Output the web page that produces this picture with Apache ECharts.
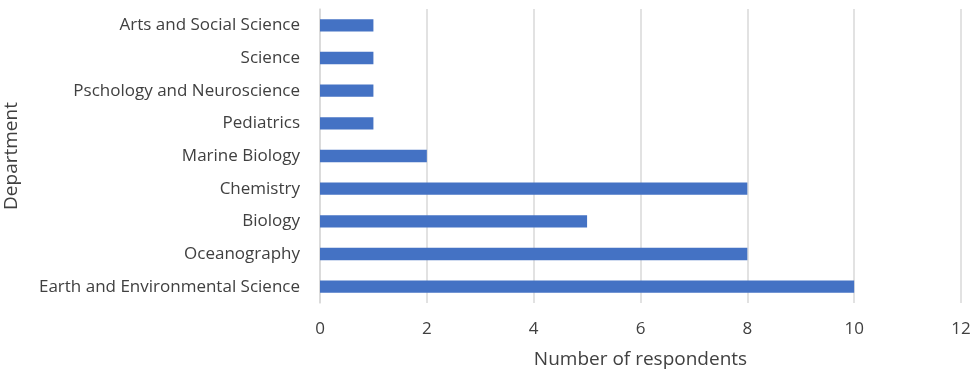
<!DOCTYPE html>
<html><head><meta charset="utf-8">
<script src="https://cdn.jsdelivr.net/npm/echarts@6/dist/echarts.min.js"></script>
<style>html,body{margin:0;padding:0;background:#fff}#c{width:974px;height:370px}</style>
</head><body><div id="c"></div>
<script>
const categories = ["Earth and Environmental Science","Oceanography","Biology","Chemistry","Marine Biology","Pediatrics","Pschology and Neuroscience","Science","Arts and Social Science"];
const values = [10, 8, 5, 8, 2, 1, 1, 1, 1];
const xTicks = [0, 2, 4, 6, 8, 10, 12];
const font = "'Open Sans', sans-serif";
const chart = echarts.init(document.getElementById('c'), null, {renderer:'canvas'});
chart.setOption({
  animation:false,
  grid:{left:320, right:13, top:9, bottom:67, containLabel:false, outerBoundsMode:'none'},
  xAxis:{type:'value', min:xTicks[0], max:xTicks[xTicks.length-1], interval:2,
    name:'Number of respondents', nameLocation:'middle', nameGap:47,
    nameTextStyle:{fontFamily:font, fontSize:19, color:'#404040'},
    axisLine:{show:false}, axisTick:{show:false},
    axisLabel:{fontFamily:font, fontSize:17, color:'#404040', margin:18},
    splitLine:{show:true, lineStyle:{color:'#d9d9d9', width:1.5}}},
  yAxis:{type:'category', data:categories,
    name:'Department', nameLocation:'middle', nameGap:299, nameRotate:90,
    nameTextStyle:{fontFamily:font, fontSize:19, color:'#404040'},
    axisLine:{show:true, lineStyle:{color:'#d9d9d9', width:1.5}}, axisTick:{show:false},
    axisLabel:{fontFamily:font, fontSize:17, color:'#404040', margin:20}},
  series:[{type:'bar', data:values, barWidth:'38%', itemStyle:{color:'#4472C4'}}]
});
</script></body></html>
